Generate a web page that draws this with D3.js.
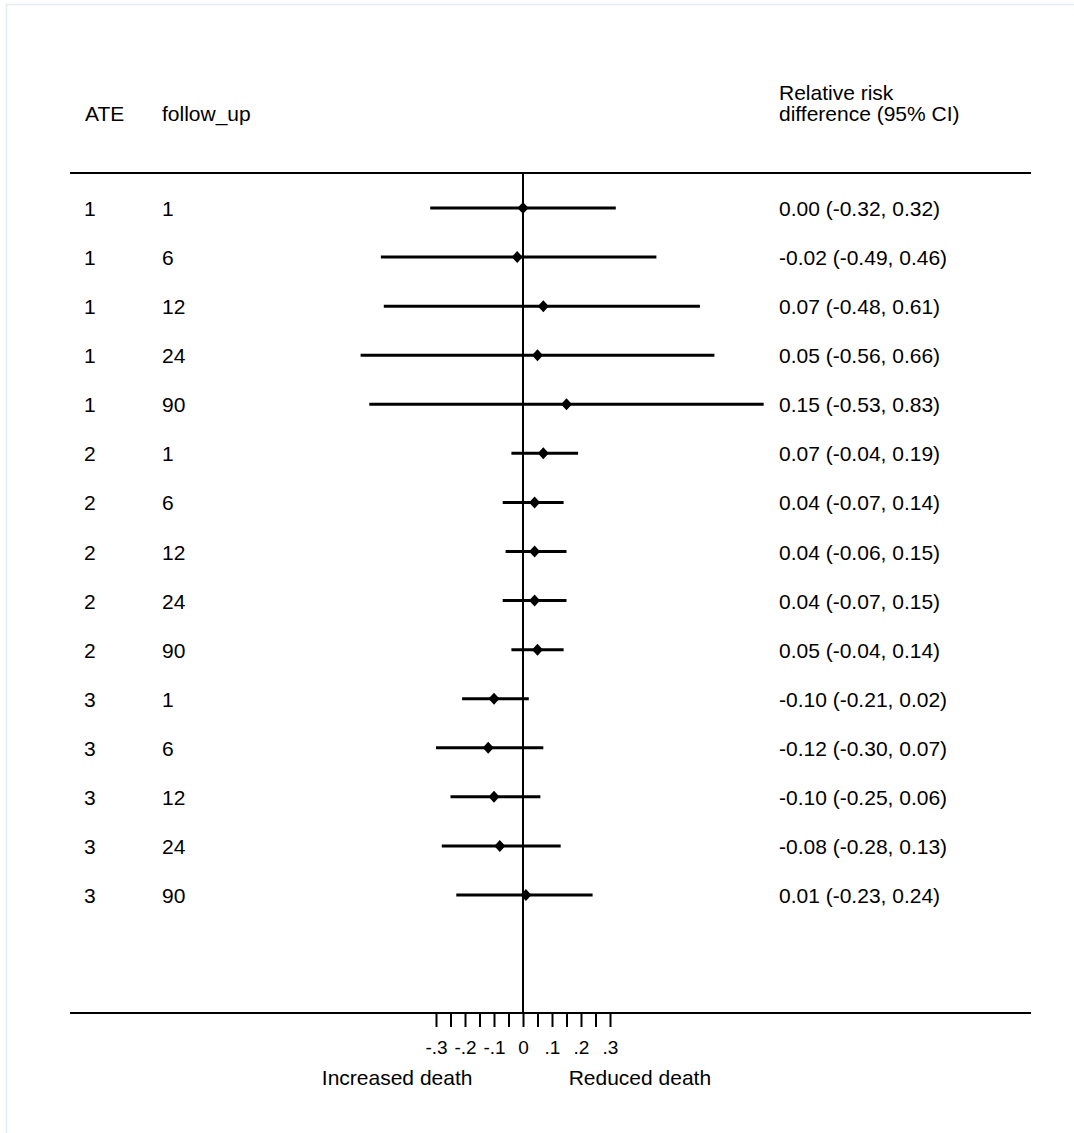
<!DOCTYPE html>
<html>
<head>
<meta charset="utf-8">
<script src="https://cdn.jsdelivr.net/npm/d3@7"></script>
<style>
  html, body { margin: 0; padding: 0; background: #fff; }
  svg text { font-family: "Liberation Sans", Arial, Helvetica, sans-serif; fill: #000; }
</style>
</head>
<body>
<svg id="chart" width="1074" height="1133"></svg>
<script>
// ---- data ----
const ate       = [1, 1, 1, 1, 1, 2, 2, 2, 2, 2, 3, 3, 3, 3, 3];
const followUp  = [1, 6, 12, 24, 90, 1, 6, 12, 24, 90, 1, 6, 12, 24, 90];
const estimate  = [0.00, -0.02, 0.07, 0.05, 0.15, 0.07, 0.04, 0.04, 0.04, 0.05, -0.10, -0.12, -0.10, -0.08, 0.01];
const lower     = [-0.32, -0.49, -0.48, -0.56, -0.53, -0.04, -0.07, -0.06, -0.07, -0.04, -0.21, -0.30, -0.25, -0.28, -0.23];
const upper     = [0.32, 0.46, 0.61, 0.66, 0.83, 0.19, 0.14, 0.15, 0.15, 0.14, 0.02, 0.07, 0.06, 0.13, 0.24];
const tickValues = [-0.3, -0.25, -0.2, -0.15, -0.1, -0.05, 0, 0.05, 0.1, 0.15, 0.2, 0.25, 0.3];
const tickLabels = ["-.3", "-.2", "-.1", "0", ".1", ".2", ".3"];
const labeledTicks = [-0.3, -0.2, -0.1, 0, 0.1, 0.2, 0.3];
const headers = { ate: "ATE", fu: "follow_up", rr: ["Relative risk", "difference (95% CI)"] };
const sideLabels = ["Increased death", "Reduced death"];

const fmt = v => d3.format(".2f")(v).replace("\u2212", "-");
const rows = ate.map((a, i) => ({
  ate: a, fu: followUp[i], est: estimate[i], lo: lower[i], hi: upper[i],
  label: `${fmt(estimate[i])} (${fmt(lower[i])}, ${fmt(upper[i])})`
}));

// ---- layout ----
const svg = d3.select("#chart");
const FS = 21;
const topY = 173, botY = 1013, lineX0 = 70, lineX1 = 1031;

// faint frame
svg.append("rect").attr("x", 6.5).attr("y", 4.5).attr("width", 1100).attr("height", 1200)
  .attr("fill", "none").attr("stroke", "#e6ecef").attr("stroke-width", 1.5);

const x = d3.scaleLinear().domain([-0.3, 0.3]).range([436, 610]);
const y = d3.scalePoint().domain(d3.range(rows.length)).range([208, 895]);

// header
svg.append("text").attr("x", 85).attr("y", 121).attr("font-size", FS).text(headers.ate);
svg.append("text").attr("x", 162).attr("y", 121).attr("font-size", FS).text(headers.fu);
svg.append("text").attr("x", 779).attr("y", 100).attr("font-size", FS).text(headers.rr[0]);
svg.append("text").attr("x", 779).attr("y", 121).attr("font-size", FS).text(headers.rr[1]);

// horizontal rules
[topY, botY].forEach(yy => {
  svg.append("line").attr("x1", lineX0).attr("x2", lineX1).attr("y1", yy).attr("y2", yy)
    .attr("stroke", "#000").attr("stroke-width", 2);
});

// zero line
svg.append("line").attr("x1", x(0)).attr("x2", x(0)).attr("y1", topY).attr("y2", botY)
  .attr("stroke", "#000").attr("stroke-width", 2);

// rows
const g = svg.append("g");
const row = g.selectAll("g.row").data(rows).join("g").attr("class", "row");
row.append("text").attr("x", 84).attr("y", (d, i) => y(i) + 8).attr("font-size", FS).text(d => d.ate);
row.append("text").attr("x", 162).attr("y", (d, i) => y(i) + 8).attr("font-size", FS).text(d => d.fu);
row.append("text").attr("x", 779).attr("y", (d, i) => y(i) + 8).attr("font-size", FS).text(d => d.label);
row.append("line")
  .attr("x1", d => x(d.lo)).attr("x2", d => x(d.hi))
  .attr("y1", (d, i) => y(i)).attr("y2", (d, i) => y(i))
  .attr("stroke", "#000").attr("stroke-width", 3);
row.append("path")
  .attr("d", (d, i) => {
    const cx = x(d.est), cy = y(i);
    return `M${cx},${cy - 6}L${cx + 5.5},${cy}L${cx},${cy + 6}L${cx - 5.5},${cy}Z`;
  })
  .attr("fill", "#000");

// axis
const axis = d3.axisBottom(x).tickValues(tickValues).tickSize(14).tickSizeOuter(0)
  .tickFormat(d => {
    const idx = labeledTicks.findIndex(t => Math.abs(t - d) < 1e-9);
    return idx >= 0 ? tickLabels[idx] : "";
  });
const ax = svg.append("g").attr("transform", `translate(0,${botY})`).call(axis);
ax.select(".domain").remove();
ax.selectAll(".tick line").attr("stroke", "#000").attr("stroke-width", 2);
ax.selectAll(".tick text").attr("font-size", 19).attr("dy", 0).attr("y", 41)
  .attr("font-family", "Liberation Sans, Arial, sans-serif").attr("fill", "#000");

// direction labels
svg.append("text").attr("x", x(-0.434)).attr("y", 1085).attr("text-anchor", "middle")
  .attr("font-size", FS).text(sideLabels[0]);
svg.append("text").attr("x", x(0.403)).attr("y", 1085).attr("text-anchor", "middle")
  .attr("font-size", FS).text(sideLabels[1]);
</script>
</body>
</html>
